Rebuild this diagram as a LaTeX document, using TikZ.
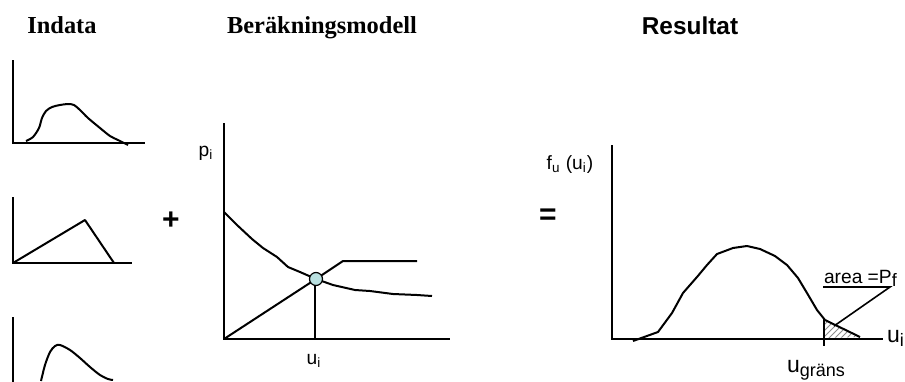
\documentclass[tikz,border=0pt]{standalone}
\usepackage{fontspec}
\setmainfont{Liberation Sans}
\newfontfamily\serifttl{Liberation Serif}
\usetikzlibrary{patterns}
\definecolor{dotCyan}{HTML}{B9E0E0}
\definecolor{hatchGray}{HTML}{8C8C8C}
\newcommand{\lowsub}[1]{\raisebox{-0.35ex}{\fontsize{9}{11}\selectfont #1}}

\begin{document}
\begin{tikzpicture}[x=0.5pt,y=-0.5pt,line width=1pt,
      ttl/.style={font=\serifttl\bfseries\fontsize{12.2}{14}\selectfont,anchor=base,inner sep=0pt},
      lbl/.style={font=\fontsize{9.6}{11}\selectfont,inner sep=0pt},
      big/.style={font=\fontsize{11.5}{13}\selectfont,inner sep=0pt},
      sign/.style={font=\bfseries\fontsize{15}{17}\selectfont,inner sep=0pt},
      curve/.style={line width=1pt,line join=round}]
      \useasboundingbox (0,0) rectangle (905,381);
      \node[ttl] (tin) at (62,33) {Indata};
      \node[ttl] (tmod) at (322,33) {Beräkningsmodell};
      \node[ttl,font=\bfseries\fontsize{12.2}{14}\selectfont] (tres) at (690,34) {Resultat};
      \node[sign] (plus) at (171,221) {+};
      \node[sign] (eq) at (548,217) {=};
      \draw (13,60) |- (145,143);
      \draw[curve] plot[smooth,tension=0.5] coordinates {(26,141) (33,137) (39,128) (42,118) (46,111) (52,107) (60,105)
        (68,104) (74,105) (80,110) (88,118) (100,128) (110,136) (118,140) (128,145)};
      \draw (13,197) |- (132,263);
      \draw[curve] (13,263) -- (85,220) -- (114,263);
      \draw (13,317) -- (13,390);
      \draw[curve] plot[smooth,tension=0.5] coordinates {(41,381) (45,365) (50,352) (55,346) (60,345) (70,350)
        (80,358) (90,367) (100,375) (108,379) (113,380)};
      \draw (224,123) |- (450,339);
      \draw[curve] plot coordinates {(224,212) (237,225) (252,239) (263,248) (277,257) (288,267)
        (300,272) (316,279) (333,285) (355,290) (370,291) (393,294) (417,295) (432,296)};
      \draw[curve] (224,339) -- (316,279) -- (343,261) -- (417,261);
      \draw (315,279) -- (315,339);
      \node[draw,circle,fill=dotCyan,line width=0.6pt,minimum size=6.5pt,inner sep=0pt] (pt) at (316,279) {};
      \node[lbl] (lp) at (206,153) {p\textsubscript{i}};
      \node[lbl] (lu) at (314,361) {u\textsubscript{i}};
      \fill[pattern=north east lines,pattern color=hatchGray] (824,320) -- (860,337) -- (824,338) -- cycle;
      \draw (612,145) |- (883,339);
      \draw[curve] plot coordinates {(633,341) (658,332) (672,313) (683,293) (697,277) (707,265)
        (717,254) (733,248) (747,246) (760,249) (775,256) (787,265) (798,278) (807,293)
        (817,310) (825,320) (860,337)};
      \draw (824,318) -- (824,346);
      \node[lbl] (lf) at (570,165) {f\textsubscript{u} (u\textsubscript{i})};
      \node[lbl,anchor=base west] (larea) at (823,283) {area =P\lowsub{f}};
      \coordinate (ptr) at (834,326);
      \draw[line width=0.8pt] (823,287) -- (890,287) -- (ptr);
      \node[big,anchor=base west] (luj) at (886,342) {u\lowsub{i}};
      \node[big,anchor=base west] (lug) at (786,372) {u\lowsub{gräns}};
    \end{tikzpicture}
\end{document}
